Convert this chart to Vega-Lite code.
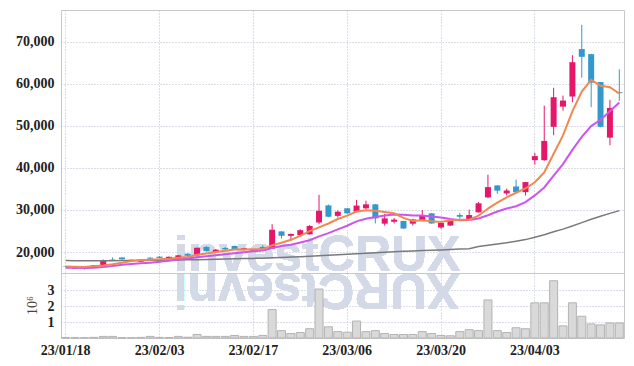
{
  "$schema": "https://vega.github.io/schema/vega-lite/v6.json",
  "padding": {"left": 15, "top": 9, "right": 9, "bottom": 0},
  "spacing": 0,
  "bounds": "flush",
  "background": "white",
  "datasets": {
    "ohlc": [
      {"date":"23/01/18","open":16600,"high":16700,"low":16350,"close":16500,"volume":30000,"ma5":16560,"ma10":16250,"ma60":17950},
      {"date":"23/01/19","open":16050,"high":16400,"low":16000,"close":16300,"volume":20000,"ma5":16500,"ma10":16230,"ma60":17940},
      {"date":"23/01/20","open":15950,"high":16250,"low":15850,"close":16150,"volume":20000,"ma5":16450,"ma10":16220,"ma60":17930},
      {"date":"23/01/25","open":16200,"high":16900,"low":16150,"close":16800,"volume":40000,"ma5":16600,"ma10":16240,"ma60":17920},
      {"date":"23/01/26","open":16800,"high":18200,"low":16700,"close":18100,"volume":100000,"ma5":16770,"ma10":16400,"ma60":17920},
      {"date":"23/01/27","open":18200,"high":18700,"low":17900,"close":17950,"volume":100000,"ma5":17060,"ma10":16650,"ma60":17930},
      {"date":"23/01/30","open":18700,"high":18750,"low":18200,"close":18250,"volume":30000,"ma5":17450,"ma10":16950,"ma60":17950},
      {"date":"23/01/31","open":18150,"high":18250,"low":17950,"close":18050,"volume":20000,"ma5":17830,"ma10":17150,"ma60":17970},
      {"date":"23/02/01","open":17700,"high":18300,"low":17600,"close":18150,"volume":40000,"ma5":18100,"ma10":17300,"ma60":17990},
      {"date":"23/02/02","open":18650,"high":18750,"low":18350,"close":18400,"volume":100000,"ma5":18170,"ma10":17465,"ma60":18010},
      {"date":"23/02/03","open":18900,"high":19000,"low":18500,"close":18600,"volume":40000,"ma5":18290,"ma10":17675,"ma60":18040},
      {"date":"23/02/06","open":18300,"high":18950,"low":18250,"close":18850,"volume":30000,"ma5":18410,"ma10":17930,"ma60":18070},
      {"date":"23/02/07","open":18100,"high":19300,"low":18000,"close":19200,"volume":100000,"ma5":18640,"ma10":18235,"ma60":18100},
      {"date":"23/02/08","open":19600,"high":19700,"low":19000,"close":19100,"volume":50000,"ma5":18830,"ma10":18465,"ma60":18140},
      {"date":"23/02/09","open":19200,"high":21100,"low":18900,"close":21000,"volume":220000,"ma5":19350,"ma10":18755,"ma60":18180},
      {"date":"23/02/10","open":21200,"high":21400,"low":20100,"close":20200,"volume":100000,"ma5":19670,"ma10":18980,"ma60":18230},
      {"date":"23/02/13","open":20000,"high":20700,"low":19800,"close":20550,"volume":100000,"ma5":20010,"ma10":19210,"ma60":18280},
      {"date":"23/02/14","open":20950,"high":21200,"low":20300,"close":20650,"volume":100000,"ma5":20300,"ma10":19470,"ma60":18330},
      {"date":"23/02/15","open":21450,"high":21500,"low":20500,"close":20600,"volume":160000,"ma5":20600,"ma10":19715,"ma60":18380},
      {"date":"23/02/16","open":20550,"high":21000,"low":20400,"close":20900,"volume":100000,"ma5":20580,"ma10":19965,"ma60":18430},
      {"date":"23/02/17","open":20300,"high":20600,"low":20200,"close":20450,"volume":100000,"ma5":20630,"ma10":20150,"ma60":18480},
      {"date":"23/02/20","open":21200,"high":21600,"low":20400,"close":20600,"volume":160000,"ma5":20640,"ma10":20325,"ma60":18530},
      {"date":"23/02/21","open":20800,"high":26600,"low":20700,"close":25300,"volume":1780000,"ma5":21570,"ma10":20935,"ma60":18620},
      {"date":"23/02/22","open":24900,"high":25000,"low":23200,"close":23850,"volume":460000,"ma5":22220,"ma10":21410,"ma60":18700},
      {"date":"23/02/23","open":23850,"high":24400,"low":22600,"close":24300,"volume":280000,"ma5":22900,"ma10":21740,"ma60":18790},
      {"date":"23/02/24","open":24000,"high":25400,"low":23900,"close":25200,"volume":340000,"ma5":23850,"ma10":22240,"ma60":18880},
      {"date":"23/02/27","open":24200,"high":26400,"low":24100,"close":26200,"volume":580000,"ma5":24970,"ma10":22805,"ma60":18980},
      {"date":"23/02/28","open":27000,"high":33600,"low":26650,"close":29850,"volume":3060000,"ma5":25880,"ma10":23725,"ma60":19100},
      {"date":"23/03/02","open":31100,"high":31300,"low":28300,"close":28400,"volume":700000,"ma5":26790,"ma10":24505,"ma60":19220},
      {"date":"23/03/03","open":28600,"high":29900,"low":28200,"close":29600,"volume":400000,"ma5":27850,"ma10":25375,"ma60":19340},
      {"date":"23/03/06","open":30400,"high":30500,"low":29100,"close":29200,"volume":360000,"ma5":28650,"ma10":26250,"ma60":19460},
      {"date":"23/03/07","open":29600,"high":32400,"low":29500,"close":31050,"volume":1060000,"ma5":29620,"ma10":27295,"ma60":19590},
      {"date":"23/03/08","open":30400,"high":32200,"low":30200,"close":31350,"volume":400000,"ma5":29920,"ma10":27900,"ma60":19710},
      {"date":"23/03/09","open":31350,"high":31400,"low":26800,"close":28000,"volume":460000,"ma5":29840,"ma10":28315,"ma60":19830},
      {"date":"23/03/10","open":26750,"high":29050,"low":26250,"close":28000,"volume":280000,"ma5":29520,"ma10":28685,"ma60":19940},
      {"date":"23/03/13","open":27200,"high":28100,"low":26800,"close":27700,"volume":220000,"ma5":29220,"ma10":28935,"ma60":20050},
      {"date":"23/03/14","open":27400,"high":27400,"low":25500,"close":25600,"volume":220000,"ma5":28130,"ma10":28875,"ma60":20150},
      {"date":"23/03/15","open":26750,"high":27900,"low":26300,"close":27750,"volume":220000,"ma5":27410,"ma10":28665,"ma60":20250},
      {"date":"23/03/16","open":27400,"high":30000,"low":27300,"close":28800,"volume":400000,"ma5":27570,"ma10":28705,"ma60":20340},
      {"date":"23/03/17","open":29200,"high":29300,"low":26700,"close":26800,"volume":280000,"ma5":27330,"ma10":28425,"ma60":20420},
      {"date":"23/03/20","open":25850,"high":27000,"low":25500,"close":26900,"volume":160000,"ma5":27170,"ma10":28195,"ma60":20500},
      {"date":"23/03/21","open":26300,"high":27600,"low":26200,"close":27450,"volume":140000,"ma5":27540,"ma10":27835,"ma60":20590},
      {"date":"23/03/22","open":28800,"high":29300,"low":27900,"close":28400,"volume":400000,"ma5":27670,"ma10":27540,"ma60":20690},
      {"date":"23/03/23","open":27800,"high":30100,"low":27700,"close":28800,"volume":520000,"ma5":27670,"ma10":27620,"ma60":20800},
      {"date":"23/03/24","open":29450,"high":31900,"low":29400,"close":31600,"volume":460000,"ma5":28630,"ma10":27980,"ma60":21300},
      {"date":"23/03/27","open":33000,"high":38400,"low":32800,"close":35450,"volume":2380000,"ma5":30340,"ma10":28755,"ma60":21600},
      {"date":"23/03/28","open":35850,"high":35900,"low":33850,"close":34600,"volume":460000,"ma5":31770,"ma10":29655,"ma60":21900},
      {"date":"23/03/29","open":33950,"high":35100,"low":33500,"close":34650,"volume":340000,"ma5":33020,"ma10":30345,"ma60":22200},
      {"date":"23/03/30","open":35600,"high":37250,"low":34200,"close":34250,"volume":640000,"ma5":34110,"ma10":30890,"ma60":22550},
      {"date":"23/03/31","open":34250,"high":36700,"low":33450,"close":36650,"volume":580000,"ma5":35120,"ma10":31875,"ma60":22950},
      {"date":"23/04/03","open":41870,"high":43600,"low":40800,"close":42830,"volume":2200000,"ma5":36600,"ma10":33470,"ma60":23500},
      {"date":"23/04/04","open":41870,"high":54860,"low":41700,"close":46440,"volume":2200000,"ma5":38960,"ma10":35370,"ma60":24100},
      {"date":"23/04/05","open":49810,"high":59100,"low":47800,"close":56850,"volume":3580000,"ma5":43400,"ma10":38210,"ma60":24800},
      {"date":"23/04/06","open":54610,"high":57250,"low":53650,"close":56060,"volume":760000,"ma5":47770,"ma10":40940,"ma60":25450},
      {"date":"23/04/07","open":57020,"high":66870,"low":55650,"close":65190,"volume":2200000,"ma5":53470,"ma10":44300,"ma60":26200},
      {"date":"23/04/10","open":68320,"high":74090,"low":61510,"close":66470,"volume":1360000,"ma5":58200,"ma10":47400,"ma60":27000},
      {"date":"23/04/11","open":67110,"high":67200,"low":54500,"close":60310,"volume":880000,"ma5":60980,"ma10":49970,"ma60":27800},
      {"date":"23/04/12","open":60460,"high":60500,"low":49700,"close":49810,"volume":820000,"ma5":59570,"ma10":51490,"ma60":28500},
      {"date":"23/04/13","open":47230,"high":56220,"low":45400,"close":54300,"volume":940000,"ma5":59220,"ma10":53490,"ma60":29200},
      {"date":"23/04/14","open":58050,"high":63500,"low":56000,"close":57810,"volume":940000,"ma5":57740,"ma10":55610,"ma60":29850}
    ]
  },
  "data": {"name": "ohlc"},
  "vconcat": [
    {
      "width": 563,
      "height": 263,
      "encoding": {
        "x": {
          "field": "date", "type": "ordinal",
          "scale": {"paddingInner": 0, "paddingOuter": 0},
          "axis": {"values": ["23/01/18","23/02/03","23/02/17","23/03/06","23/03/20","23/04/03"], "labels": false, "ticks": false, "domain": false, "title": null, "grid": true}
        }
      },
      "layer": [
        {
          "mark": {"type": "text", "text": "investCRUX", "font": "Liberation Sans", "fontWeight": "bold", "fontSize": 50, "align": "left", "baseline": "alphabetic", "dx": -4, "color": "#d4d9e8", "clip": true},
          "encoding": {
            "x": {"datum": "23/02/07", "type": "ordinal"},
            "y": {
              "datum": 15400, "type": "quantitative",
              "scale": {"domain": [15000, 77619], "nice": false, "zero": false},
              "axis": {"values": [20000,30000,40000,50000,60000,70000], "format": ",d", "title": null, "domain": false, "ticks": false, "grid": true, "labelPadding": 7, "labelOverlap": false}
            }
          }
        },
        {
          "mark": {"type": "rule", "strokeWidth": 1},
          "encoding": {
            "y": {
              "field": "low", "type": "quantitative",
              "scale": {"domain": [15000, 77619], "nice": false, "zero": false},
              "axis": {"values": [20000,30000,40000,50000,60000,70000], "format": ",d", "title": null, "domain": false, "ticks": false, "grid": true, "labelPadding": 7, "labelOverlap": false}
            },
            "y2": {"field": "high"},
            "color": {"condition": {"test": "datum.close < datum.open", "value": "#3399cc"}, "value": "#e5176b"}
          }
        },
        {
          "mark": {"type": "bar", "size": 6},
          "encoding": {
            "y": {"field": "open", "type": "quantitative"},
            "y2": {"field": "close"},
            "color": {"condition": {"test": "datum.close < datum.open", "value": "#3399cc"}, "value": "#e5176b"}
          }
        },
        {
          "mark": {"type": "line", "color": "#7a7a7a", "strokeWidth": 1.5},
          "encoding": {"y": {"field": "ma60", "type": "quantitative"}}
        },
        {
          "mark": {"type": "line", "color": "#cc55ee", "strokeWidth": 2},
          "encoding": {"y": {"field": "ma10", "type": "quantitative"}}
        },
        {
          "mark": {"type": "line", "color": "#f0884f", "strokeWidth": 2},
          "encoding": {"y": {"field": "ma5", "type": "quantitative"}}
        }
      ]
    },
    {
      "width": 563,
      "height": 65,
      "encoding": {
        "x": {
          "field": "date", "type": "ordinal",
          "scale": {"paddingInner": 0, "paddingOuter": 0},
          "axis": {"values": ["23/01/18","23/02/03","23/02/17","23/03/06","23/03/20","23/04/03"], "labelAngle": 0, "ticks": false, "domain": false, "title": null, "grid": true, "labelPadding": 5}
        }
      },
      "layer": [
        {
          "mark": {"type": "text", "text": "XURCtsevni", "font": "Liberation Sans", "fontWeight": "bold", "fontSize": 50, "align": "left", "baseline": "alphabetic", "angle": 180, "color": "#d4d9e8", "opacity": 0.75, "clip": true},
          "encoding": {
            "x": {"datum": "23/03/22", "type": "ordinal"},
            "y": {
              "datum": 4000000, "type": "quantitative",
              "scale": {"domain": [0, 4062500], "nice": false},
              "axis": {"values": [1000000, 2000000, 3000000], "labelExpr": "datum.value / 1000000", "labelOverlap": false, "grid": true, "title": "10⁶", "titleAngle": -90, "titleX": -29, "titleY": 32, "titleAlign": "center", "titleBaseline": "middle", "titleFontWeight": "normal", "titleFont": "Liberation Sans Narrow", "titleFontSize": 14, "titleColor": "#444", "domain": false, "ticks": false, "labelPadding": 7}
            }
          }
        },
        {
          "mark": {"type": "bar", "size": 8, "fill": "#d9d9d9", "stroke": "#b3b3b3", "strokeWidth": 1},
          "encoding": {
            "y": {
              "field": "volume", "type": "quantitative",
              "scale": {"domain": [0, 4062500], "nice": false},
              "axis": {"values": [1000000, 2000000, 3000000], "labelExpr": "datum.value / 1000000", "labelOverlap": false, "grid": true, "title": "10⁶", "titleAngle": -90, "titleX": -29, "titleY": 32, "titleAlign": "center", "titleBaseline": "middle", "titleFontWeight": "normal", "titleFont": "Liberation Sans Narrow", "titleFontSize": 14, "titleColor": "#444", "domain": false, "ticks": false, "labelPadding": 7}
            }
          }
        }
      ]
    }
  ],
  "config": {
    "view": {"stroke": "#c8c8c8"},
    "axis": {
      "labelFont": "Liberation Sans Narrow",
      "labelFontSize": 14,
      "labelFontWeight": "bold",
      "labelColor": "#222222",
      "gridColor": "#b4bccf",
      "gridDash": [1, 2],
      "gridWidth": 1,
      "gridOpacity": 1
    }
  }
}
